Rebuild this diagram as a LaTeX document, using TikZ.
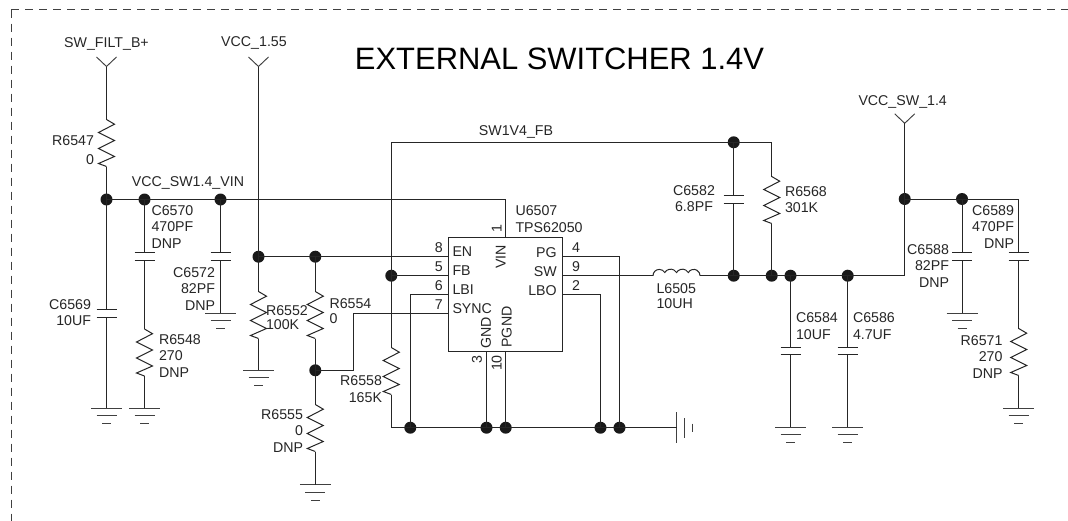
\documentclass[tikz,border=0pt]{standalone}
\usepackage{fontspec}
\setmainfont{Liberation Sans}
\newcommand\labfont{\fontsize{10.65}{12.3}\selectfont}
\tikzset{
  wire/.style={draw=black!85,line width=0.75pt},
  thin wire/.style={draw=black!75,line width=0.7pt},
  sheet/.style={draw=black!75,line width=0.7pt,dash pattern=on 6.2pt off 4.3pt},
  lab/.style={inner sep=0pt,outer sep=0pt,font=\labfont,text=black!85},
  labl/.style={lab,anchor=west,align=left},
  labr/.style={lab,anchor=east,align=right},
  labc/.style={lab,anchor=center,align=center},
  dot/.style={circle,fill=black!90,draw=none,minimum size=12*0.75pt,inner sep=0pt,outer sep=0pt},
  chip/.style={rectangle,draw=black!85,line width=0.75pt,inner sep=0pt,outer sep=0pt,minimum width=114*0.75pt,minimum height=114*0.75pt},
  res/.style={to path={-- ++(8,4.7) -- ++(-16,8.3) -- ++(16,8) -- ++(-16,8) -- ++(16,8) -- ++(-16,7) -- (\tikztotarget)}},
}
% vertical resistor: name, x, y of top; defines name-a, name-b
\newcommand\resV[3]{\coordinate (#1-a) at (#2,#3); \coordinate (#1-b) at (#2,#3+47);
  \draw[wire] (#1-a) to[res] (#1-b);}
% vertical capacitor: name, x, y of top plate
\newcommand\capV[3]{\coordinate (#1-a) at (#2,#3); \coordinate (#1-b) at (#2,#3+7.4);
  \draw[wire] (#2-10,#3) -- (#2+10,#3) (#2-10,#3+7.4) -- (#2+10,#3+7.4);}
% ground: name, x, y
\newcommand\gndV[3]{\coordinate (#1) at (#2,#3);
  \draw[thin wire] (#2-15.5,#3) -- (#2+15.5,#3) (#2-10,#3+7.5) -- (#2+10,#3+7.5) (#2-4.5,#3+15.5) -- (#2+4.5,#3+15.5);}
% net port fork: name, x, y of tip
\newcommand\portV[3]{\coordinate (#1) at (#2,#3);
  \draw[thin wire] (#2-10,#3-9.5) -- (#1) -- (#2+10,#3-9.5);}
\newcommand\jn[3]{\node[dot] (#1) at (#2,#3) {};}
\begin{document}
\begin{tikzpicture}[x=0.75pt,y=-0.75pt]
\useasboundingbox (0,0) rectangle (1068,521);
\fill[white] (0,0) rectangle (1068,521);
% sheet border
\coordinate (bl) at (11,521); \coordinate (tl) at (11,9.5); \coordinate (tr) at (1068,9.5);
\draw[sheet] (tl) -- (bl);
\draw[sheet] (tl) -- (tr);
% title
\node[lab,font=\fontsize{23.2}{26}\selectfont,text=black] (title) at (559.5,59) {EXTERNAL SWITCHER 1.4V};
% chip
\node[chip] (U) at (505.3,294.3) {};
% junctions
\jn{jA}{106.5}{199.5}\jn{jB}{144.5}{199.5}\jn{jC}{220.5}{199.5}
\jn{jD}{258.5}{256.7}\jn{jE}{315.3}{256.7}\jn{jF}{315.3}{370.3}
\jn{jG}{391.3}{275.7}
\jn{jH}{410.3}{427.7}\jn{jI}{486.5}{427.7}\jn{jJ}{505.7}{427.7}\jn{jK}{600.5}{427.7}\jn{jL}{619.5}{427.7}
\jn{jM}{733.7}{142.3}\jn{jN}{733.7}{275.7}\jn{jO}{771.7}{275.7}\jn{jP}{790.5}{275.7}\jn{jQ}{847.7}{275.7}
\jn{jR}{904.7}{199}\jn{jS}{962}{199}
% ports
\portV{pA}{106.5}{66.5}\portV{pB}{258.5}{66.5}\portV{pC}{904.7}{123.3}
% passive parts
\resV{R6547}{106.5}{119.5}
\capV{C6569}{106.5}{309.7}
\capV{C6570}{144.5}{252.8}
\resV{R6548}{144.5}{329}
\capV{C6572}{220.5}{252.8}
\resV{R6552}{258.5}{291.5}
\resV{R6554}{315.3}{291.5}
\resV{R6555}{315.3}{404.5}
\resV{R6558}{391.3}{347.5}
\capV{C6582}{733.7}{195.7}
\resV{R6568}{771.7}{176.5}
\capV{C6584}{790.5}{347.5}
\capV{C6586}{847.7}{347.5}
\capV{C6588}{962}{252.8}
\capV{C6589}{1018.7}{252.8}
\resV{R6571}{1018.7}{328.5}
% grounds
\gndV{g1}{106.5}{408.3}\gndV{g2}{144.5}{408.3}\gndV{g3}{220.5}{313.3}\gndV{g4}{258.5}{370.3}
\gndV{g5}{315.3}{484.7}\gndV{g6}{790.5}{427.3}\gndV{g7}{847.7}{427.3}\gndV{g8}{962}{313.3}\gndV{g9}{1018.7}{408.3}
% sideways ground
\coordinate (g0) at (676.7,427.7);
\draw[thin wire] (676.7,412) -- (676.7,443) (684,418) -- (684,437.5) (692,423.5) -- (692,431.5);
% chip pins
\coordinate (pEN) at (U.west |- 0,256.7); \coordinate (pFB) at (U.west |- 0,275.7);
\coordinate (pLBI) at (U.west |- 0,294.5); \coordinate (pSY) at (U.west |- 0,313.5);
\coordinate (pPG) at (U.east |- 0,256.7); \coordinate (pSW) at (U.east |- 0,275.7);
\coordinate (pLBO) at (U.east |- 0,294.5);
\coordinate (pVIN) at (505.7,237.3); \coordinate (pGND) at (486.5,351.3); \coordinate (pPGND) at (505.7,351.3);
% inductor
\coordinate (L-a) at (653,275.7); \coordinate (L-b) at (700,275.7);
% wires
\draw[wire] (pA) -- (R6547-a) (R6547-b) -- (jA.center) -- (C6569-a) (C6569-b) -- (g1);
\draw[wire] (jA.center) -- (jB.center) -- (jC.center) -- (505.7,199.5) -- (pVIN);
\draw[wire] (jB.center) -- (C6570-a) (C6570-b) -- (R6548-a) (R6548-b) -- (g2);
\draw[wire] (jC.center) -- (C6572-a) (C6572-b) -- (g3);
\draw[wire] (pB) -- (jD.center) -- (jE.center) -- (pEN);
\draw[wire] (jD.center) -- (R6552-a) (R6552-b) -- (g4);
\draw[wire] (jE.center) -- (R6554-a) (R6554-b) -- (jF.center) -- (R6555-a) (R6555-b) -- (g5);
\draw[wire] (jF.center) -- (353.5,370.3) -- (353.5,313.5) -- (pSY);
\draw[wire] (jG.center) -- (pFB);
\draw[wire] (jM.center) -- (391.3,142.3) -- (jG.center) -- (R6558-a) (R6558-b) -- (391.3,427.7) -- (jH.center) -- (jI.center) -- (jJ.center) -- (jK.center) -- (jL.center) -- (g0);
\draw[wire] (pLBI) -- (410.3,294.5) -- (jH.center);
\draw[wire] (pGND) -- (jI.center) (pPGND) -- (jJ.center);
\draw[wire] (pPG) -- (619.5,256.7) -- (jL.center);
\draw[wire] (pLBO) -- (600.5,294.5) -- (jK.center);
\draw[wire] (pSW) -- (L-a);
\draw[wire] (L-a) arc[start angle=180,end angle=330,radius=6.3] arc[start angle=210,end angle=330,radius=6.8] arc[start angle=210,end angle=330,radius=6.8] arc[start angle=210,end angle=360,radius=6.3];
\draw[wire] (L-b) -- (jN.center) -- (jO.center) -- (jP.center) -- (jQ.center) -- (904.7,275.7) -- (jR.center) -- (pC);
\draw[wire] (jM.center) -- (C6582-a) (C6582-b) -- (jN.center);
\draw[wire] (jM.center) -- (771.7,142.3) -- (R6568-a) (R6568-b) -- (jO.center);
\draw[wire] (jP.center) -- (C6584-a) (C6584-b) -- (g6);
\draw[wire] (jQ.center) -- (C6586-a) (C6586-b) -- (g7);
\draw[wire] (jR.center) -- (jS.center) -- (C6588-a) (C6588-b) -- (g8);
\draw[wire] (jS.center) -- (1018.7,199) -- (C6589-a) (C6589-b) -- (R6571-a) (R6571-b) -- (g9);
% net labels
\node[labc] (tA) at (106.5,44) {SW\_FILT\_B+};
\node[labc] (tB) at (254,43) {VCC\_1.55};
\node[labc] (tC) at (188,183) {VCC\_SW1.4\_VIN};
\node[labc] (tD) at (516,132) {SW1V4\_FB};
\node[labc] (tE) at (902.7,102) {VCC\_SW\_1.4};
% part labels
\node[labr] (t1) at (94,150) {R6547\\[1.5pt]0};
\node[labl] (t2) at (151.5,226.7) {C6570\\470PF\\DNP};
\node[labr] (t3) at (215,289) {C6572\\82PF\\DNP};
\node[labr] (t4) at (91,312.5) {C6569\\10UF};
\node[labl] (t5) at (159,356) {R6548\\270\\DNP};
\node[labl] (t6) at (266,317.5) {R6552\\[-2pt]100K};
\node[labl] (t7) at (329.5,311.5) {R6554\\[-1pt]0};
\node[labr] (t8) at (303,431) {R6555\\0\\DNP};
\node[labr] (t9) at (382,389) {R6558\\165K};
\node[labl] (t10) at (515.5,219) {U6507\\TPS62050};
\node[labl] (t11) at (656.5,296.5) {L6505\\[-1pt]10UH};
\node[labc] (t12) at (694,198.5) {C6582\\6.8PF};
\node[labl] (t13) at (785,199.5) {R6568\\301K};
\node[labl] (t14) at (796,326) {C6584\\10UF};
\node[labl] (t15) at (853,326) {C6586\\4.7UF};
\node[labr] (t16) at (949,266) {C6588\\82PF\\DNP};
\node[labr] (t17) at (1014,227) {C6589\\470PF\\DNP};
\node[labr] (t18) at (1002.5,357) {R6571\\270\\DNP};
% pin names
\node[labl] (nEN) at (452.5,252) {EN};
\node[labl] (nFB) at (452.5,271) {FB};
\node[labl] (nLBI) at (452.5,290) {LBI};
\node[labl] (nSY) at (452.5,309) {SYNC};
\node[labr] (nPG) at (556.7,253) {PG};
\node[labr] (nSW) at (556.7,272) {SW};
\node[labr] (nLBO) at (556.7,291) {LBO};
\node[labc,rotate=90] (nVIN) at (500.7,256.7) {VIN};
\node[labc,rotate=90] (nGND) at (486,333) {GND};
\node[labc,rotate=90] (nPGND) at (506.7,327) {PGND};
% pin numbers
\node[labc] (n8) at (438.7,248) {8};
\node[labc] (n5) at (438.7,267) {5};
\node[labc] (n6) at (438.7,286) {6};
\node[labc] (n7) at (438.7,305) {7};
\node[labc] (n4) at (576,248) {4};
\node[labc] (n9) at (576,267) {9};
\node[labc] (n2) at (576,286) {2};
\node[labc,rotate=90] (n1) at (496.7,229) {1};
\node[labc,rotate=90] (n3) at (477,360) {3};
\node[labc,rotate=90] (n10) at (496.7,363) {10};
\end{tikzpicture}
\end{document}
